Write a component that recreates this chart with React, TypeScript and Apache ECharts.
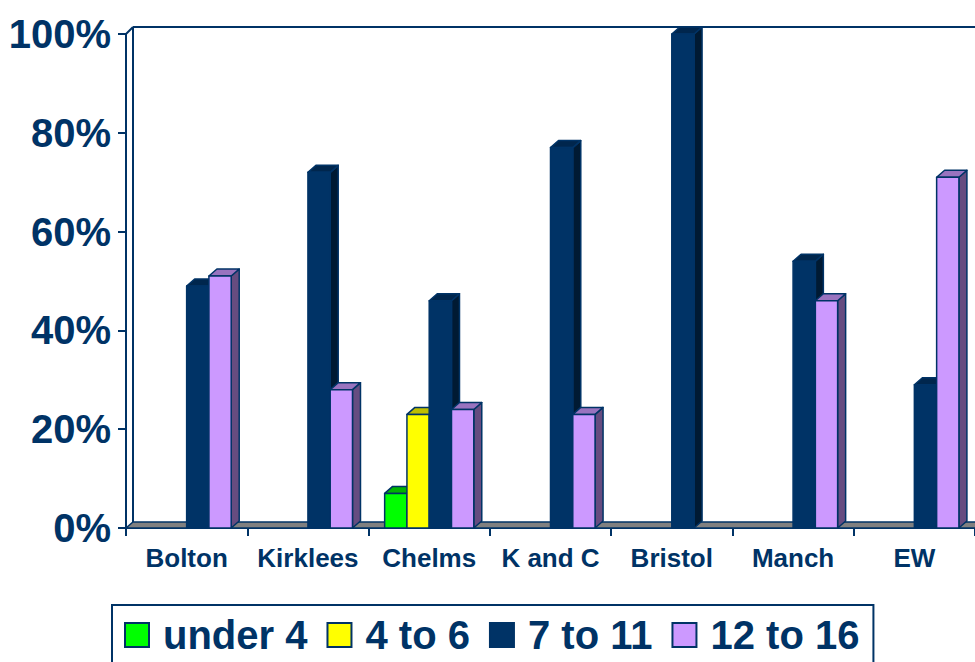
import React, { useEffect, useRef } from "react";
import * as echarts from "echarts";

const categories = ["Bolton", "Kirklees", "Chelms", "K and C", "Bristol", "Manch", "EW"];
const seriesNames = ["under 4", "4 to 6", "7 to 11", "12 to 16"];
const under4 = [0, 0, 7, 0, 0, 0, 0];
const age4to6 = [0, 0, 23, 0, 0, 0, 0];
const age7to11 = [49, 72, 46, 77, 100, 54, 29];
const age12to16 = [51, 28, 24, 23, 0, 46, 71];
const seriesValues = [under4, age4to6, age7to11, age12to16];

const NAVY = "#003366";
const FONT = "'Liberation Sans', Arial, Helvetica, sans-serif";
const faceColors = [
  { front: "#00FF00", top: "#00B300", side: "#008000" },
  { front: "#FFFF00", top: "#BFBF00", side: "#808000" },
  { front: "#003366", top: "#00264D", side: "#001A33" },
  { front: "#CC99FF", top: "#9973BF", side: "#664C80" },
];
const DX = 8;
const DY = -7;

function barRender(k: number) {
  return (params: any, api: any) => {
    const idx = api.value(0);
    const v = api.value(1);
    if (!v) return null;
    const top = api.coord([idx, v]);
    const base = api.coord([idx, 0]);
    const band = api.size([1, 0])[0];
    const bw = band * 0.1837;
    const x = top[0] - (bw * 4) / 2 + k * bw;
    const c = faceColors[k];
    const st = { stroke: NAVY, lineWidth: 1.5, lineJoin: "round" };
    return {
      type: "group",
      children: [
        {
          type: "polygon",
          shape: {
            points: [
              [x + bw, top[1]],
              [x + bw + DX, top[1] + DY],
              [x + bw + DX, base[1] + DY],
              [x + bw, base[1]],
            ],
          },
          style: { fill: c.side, ...st },
        },
        {
          type: "polygon",
          shape: {
            points: [
              [x, top[1]],
              [x + bw, top[1]],
              [x + bw + DX, top[1] + DY],
              [x + DX, top[1] + DY],
            ],
          },
          style: { fill: c.top, ...st },
        },
        {
          type: "rect",
          shape: { x, y: top[1], width: bw, height: base[1] - top[1] },
          style: { fill: c.front, ...st },
        },
      ],
    };
  };
}

function frameRender(params: any) {
  const cs = params.coordSys;
  const x0 = cs.x;
  const y0 = cs.y;
  const x1 = cs.x + cs.width;
  const y1 = cs.y + cs.height;
  const d = 7;
  const ln = { stroke: NAVY, lineWidth: 2 };
  return {
    type: "group",
    children: [
      {
        type: "polygon",
        shape: { points: [[x0, y1], [x1 + 20, y1], [x1 + 20 + d, y1 - 6], [x0 + d, y1 - 6]] },
        style: { fill: "#808080", stroke: NAVY, lineWidth: 1.5 },
      },
      { type: "line", shape: { x1: x0 + d, y1: y0 - d, x2: x0 + d, y2: y1 - 6 }, style: ln },
      { type: "line", shape: { x1: x0 + d, y1: y0 - d, x2: x1 + 30, y2: y0 - d }, style: ln },
      { type: "line", shape: { x1: x0, y1: y0, x2: x0 + d, y2: y0 - d }, style: ln },
    ],
  };
}

export default function App() {
  const ref = useRef<HTMLDivElement>(null);
  useEffect(() => {
    if (!ref.current) return;
    const chart = echarts.init(ref.current, null, { renderer: "svg" });
    const option: any = {
      animation: false,
      backgroundColor: "#ffffff",
      textStyle: { fontFamily: FONT },
      grid: { left: 126, top: 34, width: 851, height: 494 },
      legend: {
        left: 112,
        top: 605,
        orient: "horizontal",
        itemWidth: 24,
        itemHeight: 24,
        itemGap: 19,
        padding: [10, 14, 24, 12],
        borderColor: NAVY,
        borderWidth: 2,
        icon: "rect",
        textStyle: {
          color: NAVY,
          fontSize: 40,
          fontWeight: "bold",
          fontFamily: FONT,
          padding: [0, 0, 0, 9],
        },
        data: seriesNames.map((n, i) => ({
          name: n,
          itemStyle: { color: faceColors[i].front, borderColor: NAVY, borderWidth: 2 },
        })),
      },
      xAxis: {
        type: "category",
        data: categories,
        boundaryGap: true,
        axisLine: { show: true, lineStyle: { color: NAVY, width: 2 } },
        axisTick: { show: true, alignWithLabel: false, length: 8, lineStyle: { color: NAVY, width: 2 } },
        axisLabel: {
          color: NAVY,
          fontSize: 26,
          fontWeight: "bold",
          fontFamily: FONT,
          margin: 17,
          interval: 0,
        },
        splitLine: { show: false },
      },
      yAxis: {
        type: "value",
        min: 0,
        max: 100,
        interval: 20,
        axisLine: { show: true, lineStyle: { color: NAVY, width: 2 } },
        axisTick: { show: true, length: 8, lineStyle: { color: NAVY, width: 2 } },
        axisLabel: {
          color: NAVY,
          fontSize: 40,
          fontWeight: "bold",
          fontFamily: FONT,
          margin: 15,
          formatter: "{value}%",
        },
        splitLine: { show: false },
      },
      series: [
        {
          name: "frame",
          type: "custom",
          silent: true,
          z: 1,
          renderItem: frameRender,
          data: [[0, 0]],
          encode: { x: 0, y: 1 },
        },
        ...seriesNames.map((n, k) => ({
          name: n,
          type: "custom",
          z: 2,
          itemStyle: { color: faceColors[k].front, borderColor: NAVY },
          renderItem: barRender(k),
          encode: { x: 0, y: 1 },
          data: seriesValues[k].map((v, i) => [i, v]),
        })),
      ],
    };
    chart.setOption(option);
    return () => chart.dispose();
  }, []);
  return (
    <div
      ref={ref}
      style={{ position: "fixed", left: 0, top: 0, width: 975, height: 662, background: "#fff" }}
    />
  );
}
